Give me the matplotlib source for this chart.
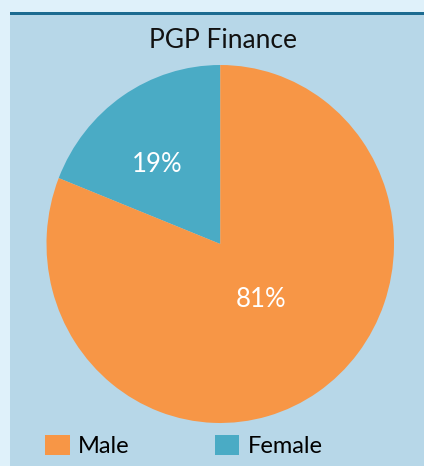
import numpy as np
import matplotlib.pyplot as plt
from matplotlib.patches import Rectangle, Patch

title = "PGP Finance"
labels = ["Female", "Male"]
shares = [19, 81]
colors = ["#4aabc5", "#f79646"]

W, H = 424, 466
fig = plt.figure(figsize=(W / 100, H / 100), dpi=100)
fig.patch.set_facecolor("#dff1fa")

# panel + dark top rule
fig.add_artist(Rectangle((10 / W, 0), 1, 453 / H, transform=fig.transFigure,
                         facecolor="#b7d7e8", edgecolor="none", zorder=0))
fig.add_artist(Rectangle((10 / W, 451 / H), 1, 3 / H, transform=fig.transFigure,
                         facecolor="#1c6b90", edgecolor="none", zorder=1))

ax = fig.add_axes([46.5 / W, 43 / H, 347.5 / W, 358 / H])
wedges, texts, autotexts = ax.pie(
    shares, colors=colors, startangle=90, counterclock=True,
    autopct="%d%%", radius=1,
    wedgeprops=dict(linewidth=0),
    textprops=dict(color="white", fontsize=18.5, family="Lato"),
)
ax.set_xlim(-1, 1)
ax.set_ylim(-1, 1)
ax.set_aspect("auto")  # reference pie is a touch taller than wide

# place the percentage labels like the reference
dists = [0.57, 0.39]
shift = [5, 3]
for w, t, d, s in zip(wedges, autotexts, dists, shift):
    mid = np.deg2rad((w.theta1 + w.theta2) / 2 + s)
    t.set_position((d * np.cos(mid), d * np.sin(mid)))
    t.set_ha("center")
    t.set_va("center")

fig.text(223 / W, 1 - 40 / H, title, ha="center", va="center",
         fontsize=19, family="Lato", color="#111111")

handles = [Patch(facecolor=colors[1], label=labels[1]),
           Patch(facecolor=colors[0], label=labels[0])]
fig.legend(handles=handles, loc="center left", ncol=2,
           bbox_to_anchor=(45 / W, 1 - 446 / H), frameon=False,
           prop=dict(family="Lato", size=17),
           handlelength=1.05, handleheight=0.9, handletextpad=0.35,
           columnspacing=3.6, borderpad=0, borderaxespad=0)

fig.savefig("out.png", dpi=100, facecolor=fig.get_facecolor())
